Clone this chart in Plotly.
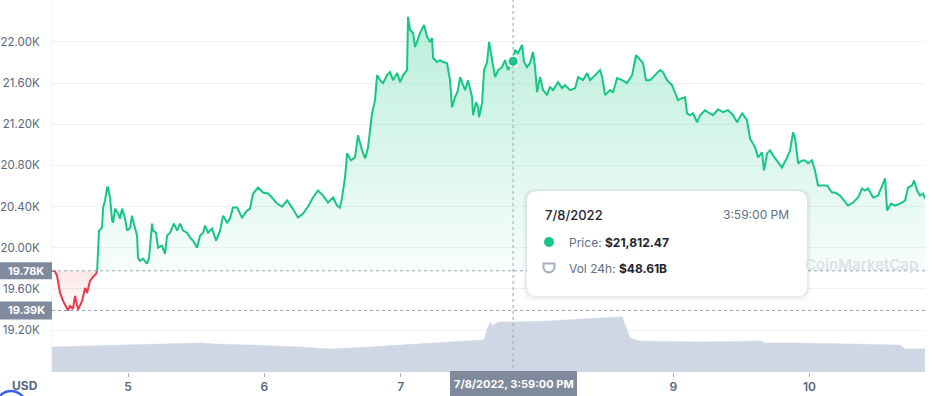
import plotly.graph_objects as go

# ---------------- data ----------------
price_day = [
    4.442, 4.464, 4.479, 4.501, 4.523, 4.552, 4.560, 4.574, 4.596, 4.611, 4.626, 4.633,
    4.663, 4.685, 4.699, 4.721, 4.743, 4.765, 4.773,
    4.787, 4.809, 4.817, 4.831, 4.846, 4.853, 4.868, 4.883, 4.890, 4.905, 4.927, 4.941,
    4.956, 4.978, 4.993, 5.015, 5.029, 5.037, 5.066, 5.073, 5.088, 5.110, 5.139, 5.154,
    5.176, 5.183, 5.205, 5.220, 5.249, 5.271, 5.286, 5.308, 5.337, 5.360, 5.382, 5.404,
    5.433, 5.455, 5.477, 5.506, 5.528, 5.550, 5.565, 5.587, 5.616, 5.646, 5.675, 5.697,
    5.726, 5.748, 5.770, 5.800, 5.836, 5.873, 5.895, 5.917, 5.954, 5.990, 6.027, 6.056,
    6.093, 6.130, 6.167, 6.203, 6.247, 6.284, 6.321, 6.357, 6.394, 6.431, 6.467, 6.504,
    6.533, 6.555, 6.570, 6.592, 6.607, 6.636, 6.665, 6.687, 6.717, 6.739, 6.761, 6.790,
    6.812, 6.827, 6.849, 6.871, 6.900, 6.922, 6.944, 6.974, 6.996, 7.018, 7.047, 7.054,
    7.069, 7.091, 7.106, 7.120, 7.142, 7.172, 7.194, 7.216, 7.230, 7.238, 7.267, 7.289,
    7.311, 7.340, 7.362, 7.377, 7.399, 7.421, 7.436, 7.458, 7.473, 7.494, 7.524, 7.531,
    7.553, 7.568, 7.575, 7.597, 7.612, 7.634, 7.649, 7.671, 7.693, 7.715, 7.744, 7.766,
    7.788, 7.817, 7.825, 7.839, 7.861, 7.891, 7.905, 7.927, 7.949, 7.971, 7.986, 8.001,
    8.023, 8.045, 8.074, 8.096, 8.118, 8.155, 8.184, 8.206, 8.243, 8.280, 8.302, 8.338,
    8.368, 8.390, 8.426, 8.463, 8.478, 8.500, 8.536, 8.558, 8.588, 8.625, 8.661, 8.698,
    8.727, 8.756, 8.778, 8.800, 8.830, 8.866, 8.903, 8.925, 8.954, 8.991, 9.013, 9.035,
    9.065, 9.087, 9.101, 9.123, 9.145, 9.175, 9.197, 9.233, 9.255, 9.292, 9.329, 9.365,
    9.402, 9.439, 9.468, 9.505, 9.541, 9.563, 9.600, 9.622, 9.651, 9.666, 9.688, 9.710,
    9.732, 9.769, 9.798, 9.835, 9.857, 9.879, 9.894, 9.916, 9.945, 9.967, 9.989, 10.018,
    10.040, 10.062, 10.092, 10.128, 10.165, 10.187, 10.224, 10.260, 10.282, 10.319, 10.356,
    10.385, 10.407, 10.429, 10.466, 10.503, 10.532, 10.554, 10.569, 10.598, 10.627, 10.664,
    10.701, 10.723, 10.752, 10.767, 10.789, 10.811, 10.833, 10.847,
]
price_usd = [
    19776, 19770, 19727, 19561, 19483, 19415, 19390, 19434, 19405, 19532, 19454, 19398,
    19483, 19610, 19561, 19678, 19717, 19746, 19776,
    20166, 20195, 20390, 20459, 20585, 20585, 20488, 20263, 20244, 20380, 20332, 20283,
    20380, 20283, 20166, 20195, 20312, 20263, 20117, 19902, 19873, 19893, 19844, 19902,
    20234, 20166, 20146, 20000, 20020, 19941, 20117, 20146, 20234, 20166, 20234, 20166,
    20146, 20098, 20068, 20000, 20117, 20146, 20215, 20146, 20185, 20068, 20166, 20312,
    20244, 20283, 20390, 20390, 20293, 20361, 20380, 20527, 20585, 20537, 20527, 20488,
    20429, 20400, 20459, 20390, 20293, 20332, 20400, 20488, 20556, 20507, 20439, 20488,
    20410, 20390, 20488, 20683, 20917, 20849, 20878, 21093, 20946, 20868, 20976, 21307,
    21434, 21678, 21629, 21600, 21678, 21707, 21629, 21698, 21610, 21678, 21727, 22244,
    22117, 22088, 21951, 22000, 22088, 22166, 22049, 22000, 22039, 21844, 21805, 21824,
    21805, 21795, 21629, 21366, 21463, 21532, 21659, 21580, 21532, 21629, 21463, 21288,
    21415, 21366, 21268, 21405, 21727, 21805, 22000, 21824, 21659, 21727, 21756, 21824,
    21727, 21805, 21812.47, 21922, 21893, 21971, 21805, 21756, 21795, 21902, 21756, 21512,
    21659, 21532, 21483, 21561, 21532, 21610, 21551, 21580, 21532, 21551, 21659, 21629,
    21698, 21629, 21678, 21727, 21659, 21483, 21532, 21512, 21649, 21629, 21600, 21678,
    21873, 21824, 21795, 21629, 21629, 21678, 21727, 21707, 21629, 21580, 21512, 21434,
    21454, 21463, 21307, 21288, 21307, 21220, 21288, 21337, 21317, 21288, 21346, 21317,
    21337, 21288, 21220, 21307, 21239, 21063, 20976, 20878, 20927, 20751, 20917, 20946,
    20898, 20829, 20780, 20878, 20946, 21122, 21063, 20820, 20849, 20849, 20820, 20849,
    20751, 20605, 20605, 20605, 20537, 20537, 20507, 20439, 20410, 20439, 20488,
    20576, 20556, 20576, 20488, 20507, 20605, 20673, 20361, 20429, 20410, 20429,
    20459, 20585, 20605, 20654, 20556, 20507, 20527, 20478,
]
open_price = 19776          # 19.78K reference line
low_price = 19390           # 19.39K reference line
split_day = 4.773           # where the price climbs back above the open

vol_day = [4.442, 4.795, 5.015, 5.235, 5.528, 5.638, 5.895, 6.262, 6.482, 6.702, 6.776,
           6.996, 7.289, 7.509, 7.612, 7.634, 7.656, 7.671, 7.715, 7.825, 8.096, 8.316,
           8.536, 8.625, 8.647, 8.683, 8.756, 9.197, 9.637, 9.673, 9.930, 10.370, 10.664,
           10.701, 10.847]
vol_bn = [29.3, 30.1, 30.8, 31.6, 32.4, 31.6, 30.8, 29.3, 27.8, 28.5, 29.3,
          30.8, 32.4, 33.9, 34.7, 42.4, 48.6, 45.5, 48.6, 48.61, 49.4, 50.9,
          51.7, 52.5, 46.3, 36.2, 33.9, 33.2, 33.9, 32.4, 32.4, 31.6, 30.8,
          27.8, 27.8]

cursor_day = 7.825
cursor_price = 21812.47
cursor_vol = 48.61
cursor_date = "7/8/2022"
cursor_time = "3:59:00 PM"

y_tickvals = [19200, 19600, 20000, 20400, 20800, 21200, 21600, 22000]
y_ticktext = ["19.20K", "19.60K", "20.00K", "20.40K", "20.80K", "21.20K", "21.60K", "22.00K"]
x_tickvals = [5, 6, 7, 9, 10]
x_ticktext = ["5", "6", "7", "9", "10"]

# ---------------- geometry / style ----------------
W, H = 933, 396
ML, MR, MT, MB = 52, 8, 0, 24
PW = W - ML - MR
PH = H - MT - MB
Y_RANGE = [18792, 22408]
FONT = "Inter, Noto Sans, sans-serif"
GREEN = "#16c784"
RED = "#ea3943"
GREY_TXT = "#58667e"
BOX = "#808a9d"


def px(x):
    return (x - ML) / PW


def py(y):
    return (H - MB - y) / PH


def pv(price):
    return (price - Y_RANGE[0]) / (Y_RANGE[1] - Y_RANGE[0])


def rounded_rect(x0, y0, x1, y1, r):
    def P(x, y):
        return f"{px(x):.5f},{py(y):.5f}"
    return (f"M {P(x0 + r, y0)} L {P(x1 - r, y0)} Q {P(x1, y0)} {P(x1, y0 + r)} "
            f"L {P(x1, y1 - r)} Q {P(x1, y1)} {P(x1 - r, y1)} "
            f"L {P(x0 + r, y1)} Q {P(x0, y1)} {P(x0, y1 - r)} "
            f"L {P(x0, y0 + r)} Q {P(x0, y0)} {P(x0 + r, y0)} Z")


red_x = [d for d in price_day if d <= split_day]
red_y = price_usd[:len(red_x)]
start_g = price_day.index(split_day)
green_x = price_day[start_g:]
green_y = price_usd[start_g:]

fig = go.Figure()

# volume (bottom band)
fig.add_trace(go.Scatter(
    x=vol_day, y=vol_bn, yaxis="y2", mode="lines",
    line=dict(color="#cfd6e4", width=0.5), fill="tozeroy", fillcolor="#cfd6e4",
    hoverinfo="skip", showlegend=False))

# red segment (below open)
fig.add_trace(go.Scatter(x=red_x, y=[open_price] * len(red_x), mode="lines",
                         line=dict(width=0, color="rgba(0,0,0,0)"), hoverinfo="skip",
                         showlegend=False))
fig.add_trace(go.Scatter(
    x=red_x, y=red_y, mode="lines", line=dict(color=RED, width=2), fill="tonexty",
    fillgradient=dict(type="vertical", start=low_price, stop=open_price,
                      colorscale=[[0, "rgba(234,57,67,0.03)"], [1, "rgba(234,57,67,0.12)"]]),
    hoverinfo="skip", showlegend=False))

# green segment (above open)
fig.add_trace(go.Scatter(x=green_x, y=[open_price] * len(green_x), mode="lines",
                         line=dict(width=0, color="rgba(0,0,0,0)"), hoverinfo="skip",
                         showlegend=False))
fig.add_trace(go.Scatter(
    x=green_x, y=green_y, mode="lines", line=dict(color=GREEN, width=2), fill="tonexty",
    fillgradient=dict(type="vertical", start=open_price, stop=22250,
                      colorscale=[[0, "rgba(22,199,132,0.03)"], [1, "rgba(22,199,132,0.30)"]]),
    hoverinfo="skip", showlegend=False))

# cursor dot
fig.add_trace(go.Scatter(
    x=[cursor_day], y=[cursor_price], mode="markers",
    marker=dict(size=11, color=GREEN, line=dict(color="white", width=2)),
    hoverinfo="skip", showlegend=False))

shapes = [
    # open / low dotted lines
    dict(type="line", xref="paper", x0=0, x1=1, yref="paper", y0=pv(open_price), y1=pv(open_price),
         line=dict(color="#9aa3b5", width=1, dash="dot"), layer="above"),
    dict(type="line", xref="paper", x0=0, x1=1, yref="paper", y0=pv(low_price), y1=pv(low_price),
         line=dict(color="#9aa3b5", width=1, dash="dot"), layer="above"),
    # crosshair
    dict(type="line", xref="x", x0=cursor_day, x1=cursor_day, yref="paper", y0=py(380), y1=1,
         line=dict(color="#9aa3b5", width=1, dash="dot"), layer="above"),
    # left value boxes
    dict(type="rect", xref="paper", x0=px(0), x1=px(52), yref="paper",
         y0=pv(open_price) - 8.5 / PH, y1=pv(open_price) + 8.5 / PH, fillcolor=BOX, line=dict(width=0)),
    dict(type="rect", xref="paper", x0=px(0), x1=px(52), yref="paper",
         y0=pv(low_price) - 9 / PH, y1=pv(low_price) + 9 / PH, fillcolor=BOX, line=dict(width=0)),
    # bottom time box
    dict(type="rect", xref="paper", x0=px(450), x1=px(577), yref="paper",
         y0=py(397), y1=py(371), fillcolor=BOX, line=dict(width=0)),
    # tooltip shadow + card
    dict(type="path", xref="paper", yref="paper", path=rounded_rect(523, 189, 811, 301, 12),
         fillcolor="rgba(88,102,126,0.05)", line=dict(width=0)),
    dict(type="path", xref="paper", yref="paper", path=rounded_rect(525, 190, 809, 298, 11),
         fillcolor="rgba(88,102,126,0.07)", line=dict(width=0)),
    dict(type="path", xref="paper", yref="paper", path=rounded_rect(527, 191, 807, 296, 10),
         fillcolor="white", line=dict(width=0)),
    # tooltip green dot
    dict(type="circle", xref="paper", yref="paper", x0=px(544), x1=px(554),
         y0=py(247), y1=py(237), fillcolor=GREEN, line=dict(width=0)),
    # tooltip shield icon
    dict(type="path", xref="paper", yref="paper",
         path=(f"M {px(543.5):.5f},{py(263.5):.5f} L {px(554.5):.5f},{py(263.5):.5f} "
               f"L {px(554.5):.5f},{py(267):.5f} Q {px(554.5):.5f},{py(271.5):.5f} {px(549):.5f},{py(272.5):.5f} "
               f"Q {px(543.5):.5f},{py(271.5):.5f} {px(543.5):.5f},{py(267):.5f} Z"),
         fillcolor="white", line=dict(color="#a6b0c3", width=2)),
    # partial logo circle bottom-left
    dict(type="circle", xref="paper", yref="paper", x0=px(-4), x1=px(26),
         y0=py(421), y1=py(391), fillcolor="white", line=dict(color="#3861fb", width=2.5)),
]

annotations = [
    dict(text="<b>19.78K</b>", xref="paper", x=px(26), xanchor="center", yref="paper",
         y=pv(open_price), yanchor="middle", showarrow=False,
         font=dict(family=FONT, size=11, color="white")),
    dict(text="<b>19.39K</b>", xref="paper", x=px(26), xanchor="center", yref="paper",
         y=pv(low_price), yanchor="middle", showarrow=False,
         font=dict(family=FONT, size=11, color="white")),
    dict(text=f"<b>{cursor_date}, {cursor_time}</b>", xref="paper", x=px(513.5),
         xanchor="center", yref="paper", y=py(384), yanchor="middle", showarrow=False,
         font=dict(family=FONT, size=11, color="white")),
    dict(text="<b>USD</b>", xref="paper", x=px(25), xanchor="center", yref="paper", y=py(385),
         yanchor="middle", showarrow=False, font=dict(family=FONT, size=12, color=GREY_TXT)),
    dict(text="CoinMarketCap", xref="paper", x=px(861), xanchor="center", yref="paper",
         y=py(264), yanchor="middle", showarrow=False,
         font=dict(family=FONT, size=15, color="#dde1e7", weight=600)),
    dict(text=cursor_date, xref="paper", x=px(543), xanchor="left", yref="paper", y=py(215),
         yanchor="middle", showarrow=False,
         font=dict(family=FONT, size=13, color="#222531", weight=500)),
    dict(text=cursor_time, xref="paper", x=px(791), xanchor="right", yref="paper", y=py(215),
         yanchor="middle", showarrow=False, font=dict(family=FONT, size=12, color="#616e85")),
    dict(text=f"<span style='color:#616e85'>Price:</span> <b>${cursor_price:,.2f}</b>",
         xref="paper", x=px(567), xanchor="left", yref="paper", y=py(242), yanchor="middle",
         showarrow=False, font=dict(family=FONT, size=12, color="#222531")),
    dict(text=f"<span style='color:#616e85'>Vol 24h:</span> <b>${cursor_vol:.2f}B</b>",
         xref="paper", x=px(567), xanchor="left", yref="paper", y=py(268), yanchor="middle",
         showarrow=False, font=dict(family=FONT, size=12, color="#222531")),
]

fig.update_layout(
    width=W, height=H,
    margin=dict(l=ML, r=MR, t=MT, b=MB, pad=0, autoexpand=False),
    paper_bgcolor="white", plot_bgcolor="white",
    font=dict(family=FONT, color=GREY_TXT),
    showlegend=False, hovermode=False,
    xaxis=dict(range=[price_day[0], price_day[-1]], tickvals=x_tickvals, ticktext=x_ticktext,
               showgrid=False, zeroline=False, showline=False, ticks="outside", ticklen=4,
               tickcolor="#a6b0c3", automargin=False,
               tickfont=dict(family=FONT, size=12, color=GREY_TXT, weight=600)),
    yaxis=dict(range=Y_RANGE, tickvals=y_tickvals, ticktext=y_ticktext,
               showgrid=True, gridcolor="#eff2f5", zeroline=False, showline=True,
               linecolor="#f3f4f6", ticks="", ticklabelstandoff=9, automargin=False,
               tickfont=dict(family=FONT, size=11.5, color=GREY_TXT)),
    yaxis2=dict(range=[10, 297.2], overlaying="y", visible=False, showgrid=False),
    shapes=shapes, annotations=annotations,
)

fig.write_html("out.html", config={"displayModeBar": False},
               post_script="document.body.style.margin='0px';")
